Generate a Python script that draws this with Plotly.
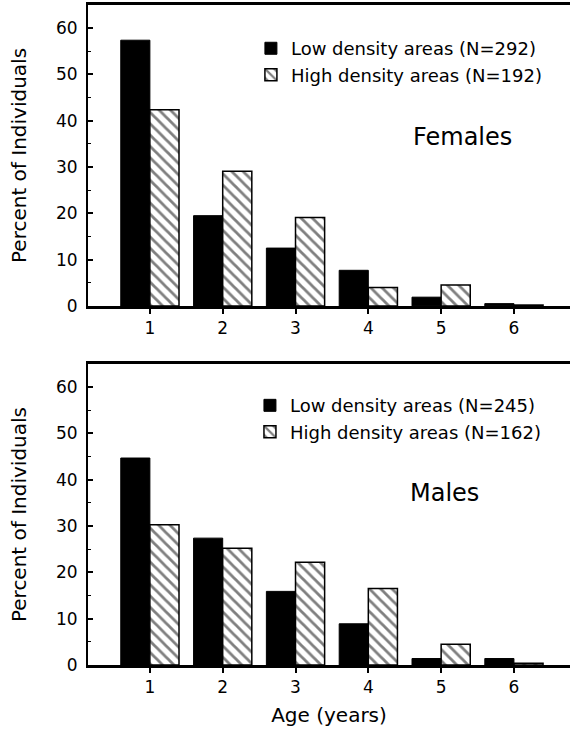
import plotly.graph_objects as go
from plotly.subplots import make_subplots

ages = [1, 2, 3, 4, 5, 6]
tick_labels = ["1", "2", "3", "4", "5", "6"]

fem_low = [57.4, 19.5, 12.5, 7.7, 1.9, 0.5]
fem_high = [42.4, 29.1, 19.1, 4.0, 4.5, 0.2]
male_low = [44.7, 27.4, 15.9, 8.9, 1.4, 1.4]
male_high = [30.3, 25.2, 22.2, 16.5, 4.5, 0.4]

fem_names = ["Low density areas (N=292)", "High density areas (N=192)"]
male_names = ["Low density areas (N=245)", "High density areas (N=162)"]

FONT = "DejaVu Sans"

fig = make_subplots(rows=2, cols=1, vertical_spacing=0.0)

def low_bar(x, y, name, legend):
    return go.Bar(x=x, y=y, name=name, legend=legend,
                  marker=dict(color="black", line=dict(color="black", width=1)))

def high_bar(x, y, name, legend):
    return go.Bar(x=x, y=y, name=name, legend=legend,
                  marker=dict(color="white",
                              pattern=dict(shape="\\", fgcolor="black", bgcolor="white",
                                           size=8, solidity=0.35, fillmode="overlay"),
                              line=dict(color="black", width=1.5)))

fig.add_trace(low_bar(ages, fem_low, fem_names[0], "legend"), row=1, col=1)
fig.add_trace(high_bar(ages, fem_high, fem_names[1], "legend"), row=1, col=1)
fig.add_trace(low_bar(ages, male_low, male_names[0], "legend2"), row=2, col=1)
fig.add_trace(high_bar(ages, male_high, male_names[1], "legend2"), row=2, col=1)

xax = dict(range=[0.15, 6.77], tickmode="array", tickvals=ages, ticktext=tick_labels,
           showline=True, linecolor="black", linewidth=3, mirror=True,
           ticks="outside", ticklen=5, tickwidth=1.5, tickcolor="black",
           showgrid=False, zeroline=False,
           tickfont=dict(family=FONT, size=17, color="black"))
yax = dict(range=[0, 65], tickmode="array", tickvals=[0, 10, 20, 30, 40, 50, 60],
           showline=True, linecolor="black", linewidth=2, mirror=False,
           ticks="inside", ticklen=5, tickwidth=1.5, tickcolor="black",
           minor=dict(ticks="inside", ticklen=3, tickwidth=1, tickcolor="black", dtick=5, tick0=0),
           showgrid=False, zeroline=False, ticklabelstandoff=5,
           tickfont=dict(family=FONT, size=17, color="black"),
           title=dict(text="Percent of Individuals", font=dict(family=FONT, size=20, color="black"),
                      standoff=24))

fig.update_layout(
    xaxis=dict(domain=[0, 1], anchor="y", **xax),
    xaxis2=dict(domain=[0, 1], anchor="y2",
                title=dict(text="Age (years)", font=dict(family=FONT, size=20, color="black"), standoff=12),
                **xax),
    yaxis=dict(domain=[0.544, 1.0], anchor="x", **yax),
    yaxis2=dict(domain=[0.0, 0.456], anchor="x2", **yax),
)

leg_common = dict(bgcolor="rgba(0,0,0,0)", borderwidth=0, xanchor="left", yanchor="top",
                  font=dict(family=FONT, size=18, color="black"), tracegroupgap=0,
                  traceorder="normal", itemclick=False)
fig.update_layout(
    legend=dict(x=0.338, y=0.962, **leg_common),
    legend2=dict(x=0.336, y=0.421, **leg_common),
)

fig.add_annotation(text="Females", xref="x domain", yref="y domain", x=0.776, y=0.561,
                   xanchor="center", yanchor="middle",
                   showarrow=False, font=dict(family=FONT, size=24, color="black"))
fig.add_annotation(text="Males", xref="x2 domain", yref="y2 domain", x=0.739, y=0.571,
                   xanchor="center", yanchor="middle",
                   showarrow=False, font=dict(family=FONT, size=24, color="black"))

fig.update_layout(
    width=570, height=731,
    margin=dict(l=88, r=0, t=5, b=66),
    barmode="group", bargap=0.2, bargroupgap=0.0,
    plot_bgcolor="white", paper_bgcolor="white",
    showlegend=True,
)

fig.write_html("out.html")
